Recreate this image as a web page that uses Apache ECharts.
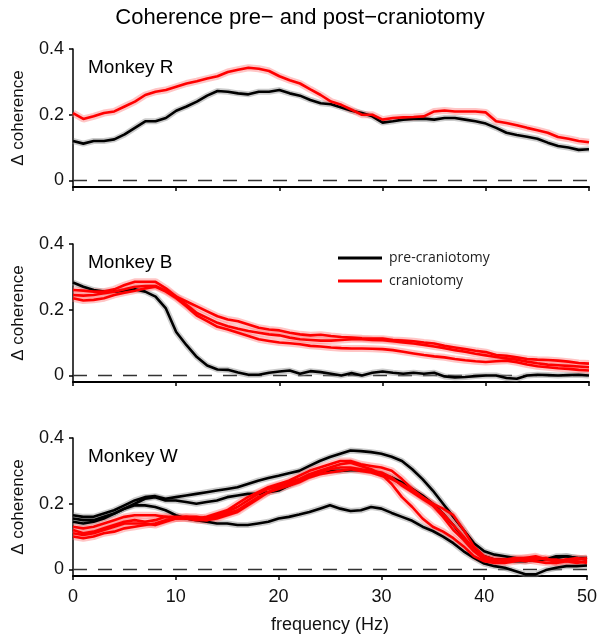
<!DOCTYPE html>
<html>
<head>
<meta charset="utf-8">
<script src="https://cdn.jsdelivr.net/npm/echarts@6/dist/echarts.min.js"></script>
<style>
html,body{margin:0;padding:0;background:#fff;}
#chart{width:600px;height:640px;}
</style>
</head>
<body>
<div id="chart"></div>
<script>
// Frequency axis (Hz)
const freq = [0,1,2,3,4,5,6,7,8,9,10,11,12,13,14,15,16,17,18,19,20,21,22,23,24,25,26,27,28,29,30,31,32,33,34,35,36,37,38,39,40,41,42,43,44,45,46,47,48,49,50];
const xTicks = [0,10,20,30,40,50];
const yTicks = [0,0.2,0.4];
const panelNames = ['Monkey R','Monkey B','Monkey W'];
const titleText = 'Coherence pre\u2212 and post\u2212craniotomy';

// Monkey R
const R_pre = [0.12,0.112,0.12,0.12,0.125,0.14,0.16,0.18,0.18,0.19,0.212,0.225,0.24,0.258,0.272,0.27,0.265,0.262,0.27,0.27,0.275,0.265,0.258,0.245,0.235,0.232,0.222,0.212,0.205,0.195,0.176,0.18,0.185,0.187,0.188,0.185,0.19,0.19,0.185,0.18,0.173,0.16,0.145,0.138,0.133,0.127,0.115,0.105,0.1,0.093,0.095];
const R_post = [0.205,0.187,0.195,0.205,0.21,0.225,0.24,0.26,0.27,0.275,0.285,0.295,0.302,0.31,0.317,0.33,0.337,0.343,0.34,0.333,0.317,0.305,0.295,0.277,0.26,0.24,0.23,0.215,0.2,0.2,0.185,0.19,0.192,0.193,0.195,0.21,0.213,0.21,0.21,0.21,0.207,0.18,0.175,0.168,0.16,0.153,0.145,0.132,0.127,0.12,0.116];

// Monkey B
const B_pre = [0.283,0.27,0.26,0.255,0.255,0.258,0.262,0.255,0.24,0.204,0.132,0.092,0.056,0.03,0.018,0.017,0.009,0.002,0.002,0.008,0.012,0.015,0.005,0.013,0.01,0.005,0.0,0.007,0.0,0.008,0.012,0.008,0.005,0.008,0.005,0.008,-0.003,-0.006,-0.005,-0.002,0.0,0.0,-0.008,-0.01,0.0,0.002,0.001,0.0,0.001,0.002,0.0];
const B_post1 = [0.26,0.258,0.255,0.255,0.262,0.275,0.285,0.285,0.285,0.265,0.24,0.225,0.21,0.195,0.18,0.17,0.165,0.155,0.145,0.14,0.137,0.13,0.125,0.122,0.124,0.12,0.117,0.115,0.113,0.112,0.112,0.108,0.106,0.104,0.1,0.097,0.09,0.085,0.08,0.075,0.071,0.062,0.06,0.055,0.05,0.048,0.047,0.045,0.042,0.038,0.036];
const B_post2 = [0.245,0.243,0.245,0.25,0.255,0.262,0.27,0.272,0.272,0.258,0.24,0.215,0.19,0.175,0.16,0.15,0.142,0.135,0.13,0.125,0.122,0.115,0.11,0.108,0.106,0.106,0.108,0.11,0.11,0.108,0.107,0.104,0.1,0.097,0.093,0.088,0.083,0.077,0.072,0.066,0.061,0.056,0.052,0.048,0.042,0.037,0.033,0.031,0.029,0.027,0.025];
const B_post3 = [0.235,0.228,0.23,0.235,0.245,0.252,0.258,0.265,0.27,0.255,0.235,0.21,0.182,0.165,0.148,0.14,0.13,0.12,0.11,0.105,0.1,0.098,0.095,0.09,0.088,0.085,0.083,0.082,0.082,0.081,0.08,0.077,0.072,0.067,0.062,0.058,0.055,0.05,0.046,0.043,0.041,0.043,0.045,0.04,0.033,0.028,0.025,0.022,0.02,0.017,0.015];

// Monkey W
const W_pre1 = [0.165,0.16,0.16,0.17,0.18,0.195,0.21,0.22,0.223,0.215,0.22,0.225,0.23,0.235,0.24,0.245,0.25,0.26,0.27,0.278,0.285,0.293,0.3,0.315,0.33,0.342,0.352,0.362,0.36,0.357,0.352,0.343,0.33,0.305,0.275,0.24,0.2,0.16,0.12,0.08,0.055,0.045,0.04,0.035,0.03,0.03,0.03,0.04,0.04,0.035,0.03];
const W_pre2 = [0.155,0.15,0.15,0.16,0.17,0.185,0.2,0.215,0.22,0.21,0.21,0.205,0.2,0.205,0.21,0.22,0.225,0.23,0.23,0.235,0.24,0.255,0.27,0.285,0.295,0.3,0.3,0.302,0.302,0.3,0.29,0.28,0.265,0.245,0.225,0.2,0.17,0.135,0.095,0.06,0.04,0.03,0.03,0.025,0.025,0.03,0.03,0.035,0.04,0.035,0.035];
const W_pre3 = [0.145,0.14,0.145,0.155,0.17,0.185,0.195,0.195,0.19,0.18,0.165,0.155,0.15,0.145,0.14,0.14,0.135,0.135,0.14,0.145,0.155,0.16,0.167,0.175,0.185,0.195,0.185,0.178,0.18,0.19,0.185,0.172,0.16,0.148,0.13,0.117,0.1,0.08,0.055,0.035,0.018,0.01,0.005,-0.005,-0.015,-0.015,-0.002,0.005,0.01,0.01,0.012];
const W_post1 = [0.13,0.125,0.13,0.14,0.15,0.16,0.165,0.165,0.165,0.16,0.155,0.155,0.155,0.16,0.17,0.18,0.2,0.22,0.235,0.25,0.26,0.27,0.285,0.3,0.31,0.32,0.33,0.33,0.32,0.315,0.31,0.3,0.275,0.245,0.22,0.2,0.185,0.165,0.12,0.07,0.04,0.03,0.03,0.035,0.035,0.035,0.03,0.025,0.03,0.035,0.03];
const W_post2 = [0.11,0.105,0.11,0.12,0.13,0.14,0.14,0.14,0.135,0.145,0.155,0.16,0.155,0.15,0.155,0.165,0.175,0.195,0.215,0.235,0.25,0.265,0.275,0.29,0.3,0.31,0.32,0.325,0.315,0.305,0.29,0.26,0.22,0.19,0.155,0.13,0.115,0.095,0.07,0.04,0.025,0.02,0.02,0.025,0.03,0.025,0.02,0.02,0.03,0.025,0.02];
const W_post3 = [0.1,0.095,0.1,0.11,0.115,0.125,0.13,0.135,0.14,0.15,0.155,0.155,0.15,0.15,0.16,0.17,0.18,0.2,0.22,0.235,0.245,0.255,0.265,0.28,0.29,0.295,0.3,0.305,0.3,0.295,0.285,0.275,0.26,0.24,0.22,0.195,0.17,0.135,0.1,0.06,0.035,0.03,0.025,0.03,0.035,0.04,0.03,0.03,0.025,0.03,0.035];
const W_post4 = [0.12,0.11,0.115,0.125,0.135,0.145,0.15,0.145,0.15,0.16,0.16,0.16,0.16,0.155,0.165,0.175,0.19,0.21,0.23,0.245,0.255,0.26,0.27,0.285,0.295,0.305,0.31,0.31,0.305,0.3,0.295,0.28,0.255,0.235,0.215,0.195,0.16,0.12,0.09,0.055,0.03,0.025,0.03,0.03,0.025,0.03,0.035,0.02,0.025,0.02,0.025];

const panels = [
  {pre:[R_pre], post:[R_post]},
  {pre:[B_pre], post:[B_post1,B_post2,B_post3]},
  {pre:[W_pre1,W_pre2,W_pre3], post:[W_post1,W_post2,W_post3,W_post4]}
];

const FONT = 'Liberation Sans, Arial, sans-serif';
const gridTops = [49, 244, 438];
const grids = gridTops.map(t => ({left:73, right:11, top:t, height:138}));

const xAxes = gridTops.map((t,i) => ({
  type:'value', gridIndex:i, min:0, max:50, interval:10,
  axisLine:{show:true, onZero:false, lineStyle:{color:'#000', width:2}},
  axisTick:{show:true, length:4, lineStyle:{color:'#000', width:1.5}},
  axisLabel:{show:i===2, fontSize:18, color:'#111', margin:12, fontFamily:FONT},
  splitLine:{show:false},
  name: i===2 ? 'frequency (Hz)' : '',
  nameLocation:'middle', nameGap:40,
  nameTextStyle:{fontSize:18, color:'#111', fontFamily:FONT}
}));

const yAxes = gridTops.map((t,i) => ({
  type:'value', gridIndex:i, min:-0.02, max:0.4,
  axisLine:{show:true, onZero:false, lineStyle:{color:'#000', width:1.5}},
  axisTick:{show:true, length:4, customValues:yTicks, lineStyle:{color:'#000', width:1.5}},
  axisLabel:{show:true, customValues:yTicks, fontSize:18, color:'#111', margin:9, fontFamily:FONT,
    formatter: v => (Math.abs(v) < 1e-9 ? '0' : String(+v.toFixed(1)))},
  splitLine:{show:false},
  name:'\u0394 coherence', nameLocation:'middle', nameRotate:90, nameGap:46,
  nameTextStyle:{fontSize:17, color:'#111', fontFamily:FONT}
}));

const series = [];
panels.forEach((p,i) => {
  let first = true;
  const add = (arr, isPre) => {
    const pts = freq.map((f,k) => [f, arr[k]]);
    const halo = {
      type:'line', name: isPre ? 'pre-craniotomy halo' : 'craniotomy halo',
      xAxisIndex:i, yAxisIndex:i, data:pts, showSymbol:false, silent:true, z:2,
      lineStyle:{width: isPre ? 6 : 7, color: isPre ? 'rgba(140,140,140,0.45)' : 'rgba(255,110,110,0.4)'}
    };
    if (first) {
      halo.markLine = {silent:true, symbol:'none', label:{show:false}, z:1,
        lineStyle:{color:'#333', type:[14,11], width:1.3},
        emphasis:{disabled:true},
        data:[{yAxis:0}]};
      first = false;
    }
    series.push(halo);
    series.push({
      type:'line', name: isPre ? 'pre-craniotomy' : 'craniotomy',
      xAxisIndex:i, yAxisIndex:i, data:pts, showSymbol:false, z:3,
      lineStyle:{width:2.6, color: isPre ? '#000' : '#ff0000'},
      itemStyle:{color: isPre ? '#000' : '#ff0000'}
    });
  };
  p.pre.forEach(a => add(a, true));
  p.post.forEach(a => add(a, false));
});

const chart = echarts.init(document.getElementById('chart'), null, {renderer:'canvas'});
chart.setOption({
  backgroundColor:'#fff',
  animation:false,
  title:[
    {text:titleText, left:'center', top:2, textStyle:{fontSize:22, fontWeight:'normal', color:'#000', fontFamily:FONT}},
    ...panelNames.map((n,i) => ({text:n, left:83, top:gridTops[i]+4,
      textStyle:{fontSize:19, fontWeight:'normal', color:'#000', fontFamily:FONT}}))
  ],
  legend:{
    data:['pre-craniotomy','craniotomy'], orient:'vertical', left:333, top:246,
    itemWidth:44, itemHeight:3, itemGap:9, icon:'rect',
    textStyle:{fontSize:14, color:'#222', fontFamily:'Open Sans, sans-serif', padding:[0,0,0,2]},
    selectedMode:false
  },
  grid:grids,
  xAxis:xAxes,
  yAxis:yAxes,
  series:series
});
</script>
</body>
</html>
